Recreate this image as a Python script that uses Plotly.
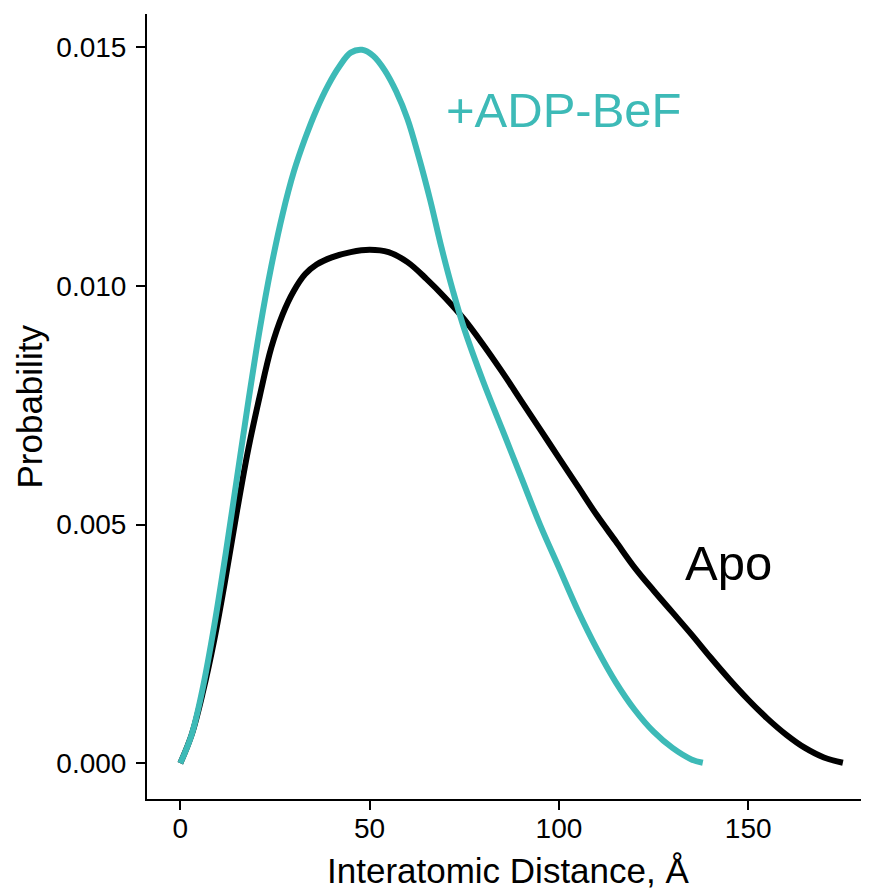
import plotly.graph_objects as go

# Apo distance distribution
apo_x = [0, 3, 6, 9, 12, 15, 18, 21, 24, 27, 30, 33, 36, 40, 45, 50, 55, 60, 65, 70,
         75, 80, 85, 90, 95, 100, 105, 110, 115, 120, 125, 130, 135, 140, 145, 150,
         155, 160, 165, 170, 175]
apo_y = [0.0000, 0.0006, 0.0015, 0.0026, 0.0039, 0.0053, 0.0066, 0.0077, 0.0087, 0.0094,
         0.0099, 0.01025, 0.01045, 0.0106, 0.01071, 0.01076, 0.01071, 0.0105, 0.01015, 0.00975,
         0.0093, 0.00877, 0.0082, 0.0076, 0.0070, 0.0064, 0.0058, 0.0052, 0.00465, 0.0041,
         0.00362, 0.00316, 0.0027, 0.00222, 0.00176, 0.00133, 0.00094, 0.0006, 0.00032, 0.00012,
         0.00001]

# +ADP-BeF distance distribution
adp_x = [0, 3, 6, 9, 12, 15, 18, 21, 24, 27, 30, 33, 36, 39, 42, 45, 48, 51, 54, 57,
         60, 63, 66, 69, 72, 75, 80, 85, 90, 95, 100, 105, 110, 115, 120, 125, 130, 135, 138]
adp_y = [0.0000, 0.0006, 0.0016, 0.0029, 0.0044, 0.0060, 0.0076, 0.0091, 0.0104, 0.0115,
         0.0124, 0.0131, 0.0137, 0.0142, 0.0146, 0.01489, 0.01495, 0.01482, 0.01452, 0.01408,
         0.0135, 0.0127, 0.0118, 0.0108, 0.0099, 0.0091, 0.0080, 0.0070, 0.0060, 0.0050,
         0.0041, 0.0032, 0.0024, 0.0017, 0.00112, 0.00066, 0.00032, 0.00008, 0.00001]

x_ticks = [0, 50, 100, 150]
y_ticks = [0.000, 0.005, 0.010, 0.015]
y_tick_labels = ["0.000", "0.005", "0.010", "0.015"]

TEAL = "#3DBAB7"
FONT = "Liberation Sans, Arial, Helvetica, sans-serif"

fig = go.Figure()
fig.add_trace(go.Scatter(x=apo_x, y=apo_y, mode="lines", name="Apo",
                         line=dict(color="black", width=6, shape="spline", smoothing=1.0)))
fig.add_trace(go.Scatter(x=adp_x, y=adp_y, mode="lines", name="+ADP-BeF",
                         line=dict(color=TEAL, width=6, shape="spline", smoothing=1.0)))

fig.add_annotation(x=101.4, y=0.01368, text="+ADP-BeF", showarrow=False,
                   font=dict(family=FONT, size=49, color=TEAL),
                   xanchor="center", yanchor="middle")
fig.add_annotation(x=144.7, y=0.0042, text="Apo", showarrow=False,
                   font=dict(family=FONT, size=49, color="black"),
                   xanchor="center", yanchor="middle")

# axis titles
fig.add_annotation(xref="paper", yref="paper", x=0.5, y=-0.0915,
                   text="Interatomic Distance, Å", showarrow=False,
                   font=dict(family=FONT, size=35, color="black"),
                   xanchor="center", yanchor="middle")
fig.add_annotation(xref="paper", yref="paper", x=-0.1634, y=0.5,
                   text="Probability", showarrow=False, textangle=-90,
                   font=dict(family=FONT, size=35, color="black"),
                   xanchor="center", yanchor="middle")

# page body has an 8px margin, so the figure is sized to fill the rest of the window
fig.update_layout(
    width=861, height=881,
    margin=dict(l=139, r=0, t=6, b=90),
    plot_bgcolor="white", paper_bgcolor="white",
    showlegend=False,
    font=dict(family=FONT, color="black"),
)
fig.update_xaxes(
    range=[-8.8, 181.9], tickvals=x_ticks, ticks="outside", ticklen=9, tickwidth=2,
    tickcolor="black", showline=True, linecolor="black", linewidth=2,
    showgrid=False, zeroline=False, tickfont=dict(size=28, color="black"),
    automargin=False, ticklabelstandoff=-6,
)
fig.update_yaxes(
    range=[-0.00075, 0.0157], tickvals=y_ticks, ticktext=y_tick_labels, ticks="outside",
    ticklen=9, tickwidth=2, tickcolor="black", showline=True, linecolor="black",
    linewidth=2, showgrid=False, zeroline=False, tickfont=dict(size=28, color="black"),
    automargin=False, ticklabelstandoff=4,
)

fig.write_html("out.html")
